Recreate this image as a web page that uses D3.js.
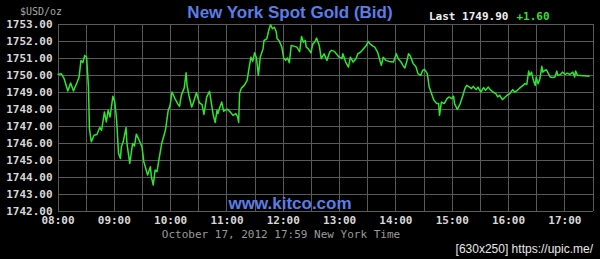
<!DOCTYPE html>
<html lang="en">
<head>
<meta charset="UTF-8">
<script src="https://d3js.org/d3.v7.min.js"></script>
<style>
  body { margin: 0; background: #000; }
  svg { display: block; background: #000; }
  .grid line { stroke: #5a5a5a; stroke-width: 1px; shape-rendering: crispEdges; }
  .grid path { display: none; }
  .lbl text { fill: #d8d8d8; font-family: "DejaVu Sans Mono", monospace; font-weight: bold; font-size: 11px; }
  .lbl path, .lbl line { display: none; }
  .title { fill: #5a7ee6; font-family: "Liberation Sans", Arial, sans-serif; font-weight: bold; font-size: 17px; }
  .mono { font-family: "DejaVu Sans Mono", monospace; font-weight: bold; font-size: 11px; }
</style>
</head>
<body>
<svg id="chart" width="600" height="259"></svg>
<script>
// chart values
const times = ["08:00","08:04","08:07","08:11","08:14","08:17","08:21","08:23","08:25","08:27","08:29","08:31","08:33","08:34","08:36","08:39","08:42","08:45","08:47","08:50","08:52","08:54","08:56","08:59",
  "09:01","09:03","09:05","09:07","09:08","09:10","09:13","09:14","09:17","09:20","09:22","09:24","09:27","09:30","09:32","09:36","09:39","09:40","09:42","09:44","09:46","09:48","09:51","09:55","09:58",
  "10:00","10:02","10:05","10:08","10:10","10:12","10:15","10:17","10:18","10:20","10:23","10:25","10:28","10:31","10:34","10:36","10:39","10:42","10:44","10:46","10:48","10:50","10:51","10:53","10:55","10:57","10:58",
  "11:01","11:04","11:07","11:10","11:12","11:13","11:14","11:16","11:19","11:22","11:24","11:26","11:28","11:30","11:32","11:34","11:36","11:39","11:40","11:43","11:45","11:47","11:49","11:51","11:53","11:54","11:56","11:59",
  "12:01","12:03","12:05","12:07","12:09","12:12","12:15","12:18","12:20","12:22","12:24","12:25","12:27","12:30","12:32","12:34","12:36","12:39","12:41","12:44","12:47","12:50","12:52","12:55","12:57",
  "13:00","13:03","13:04","13:07","13:10","13:12","13:15","13:18","13:20","13:23","13:26","13:29","13:31","13:33","13:36","13:38","13:41","13:44","13:45","13:47","13:50","13:53","13:58",
  "14:01","14:03","14:06","14:08","14:10","14:12","14:14","14:16","14:19","14:22","14:24","14:27","14:29","14:31","14:34","14:36","14:39","14:41","14:44","14:46","14:47","14:49","14:52","14:55","14:57",
  "15:00","15:02","15:03","15:06","15:09","15:12","15:14","15:16","15:19","15:21","15:23","15:26","15:28","15:31","15:34","15:36","15:39","15:41","15:44","15:47","15:49","15:51","15:54","15:57","15:59",
  "16:02","16:05","16:07","16:10","16:13","16:16","16:18","16:20","16:22","16:23","16:25","16:27","16:29","16:30","16:32","16:34","16:36","16:37","16:39","16:41","16:43","16:45","16:48","16:50","16:52","16:53","16:56","16:58",
  "17:01","17:03","17:06","17:09","17:11","17:12","17:14","17:27"];
const prices = [1750.00,1750.05,1749.76,1749.03,1749.50,1749.03,1749.56,1749.85,1750.83,1750.70,1751.12,1751.02,1749.26,1746.82,1746.04,1746.43,1746.47,1746.88,1746.72,1747.80,1747.21,1747.90,1747.50,1748.72,
  1748.38,1747.31,1745.36,1745.06,1745.74,1746.04,1746.88,1745.94,1744.77,1745.94,1745.79,1746.49,1746.14,1745.74,1744.86,1744.09,1744.57,1743.99,1743.50,1744.38,1744.28,1744.96,1745.94,1746.72,1747.90,
  1748.19,1748.97,1748.60,1748.29,1748.12,1748.80,1749.20,1750.10,1749.36,1748.78,1748.09,1748.38,1748.93,1748.35,1748.23,1747.65,1748.68,1749.01,1748.29,1747.60,1747.18,1747.90,1747.70,1748.09,1748.38,1747.84,1747.90,
  1747.96,1747.80,1747.60,1747.70,1747.50,1747.18,1748.90,1749.20,1749.36,1749.66,1750.34,1751.02,1750.77,1751.28,1750.97,1749.95,1751.02,1751.52,1752.00,1752.10,1752.59,1752.92,1752.69,1752.78,1752.53,1752.10,1752.00,1751.61,
  1750.97,1750.83,1750.97,1750.70,1751.71,1751.67,1751.61,1751.35,1752.24,1751.90,1752.00,1751.61,1751.52,1751.28,1751.80,1751.90,1752.14,1751.67,1750.93,1751.22,1750.83,1751.32,1751.42,1751.36,1751.22,
  1751.02,1750.93,1751.22,1750.73,1750.44,1751.02,1750.73,1750.93,1751.22,1751.32,1751.52,1751.71,1751.94,1751.80,1751.67,1751.61,1751.32,1750.73,1750.54,1751.02,1750.83,1750.77,1750.73,
  1751.22,1750.93,1750.73,1750.54,1750.38,1750.73,1751.22,1751.08,1750.64,1750.44,1750.05,1749.95,1750.24,1750.30,1750.05,1749.26,1748.80,1748.48,1748.30,1748.30,1747.60,1748.38,1748.29,1748.58,1748.68,
  1748.58,1748.72,1748.29,1747.94,1748.29,1748.78,1749.17,1749.36,1749.26,1749.17,1749.30,1749.11,1749.26,1748.97,1749.23,1749.07,1749.26,1749.11,1748.97,1748.88,1748.68,1748.78,1748.52,1748.68,1748.78,
  1748.88,1749.11,1748.97,1749.07,1749.23,1749.36,1749.46,1749.42,1750.20,1749.95,1750.14,1749.66,1749.36,1749.85,1749.46,1749.76,1750.48,1750.14,1750.24,1750.28,1750.05,1749.85,1749.82,1749.85,1750.20,1749.95,1750.00,1750.14,
  1750.00,1750.08,1750.00,1750.14,1749.85,1750.20,1749.95,1749.90];
const priceTicks = [1742,1743,1744,1745,1746,1747,1748,1749,1750,1751,1752,1753];
const timeTicks = ["08:00","09:00","10:00","11:00","12:00","13:00","14:00","15:00","16:00","17:00"];
const timeDomain = ["08:00","17:30"];
const lastPrice = "1749.90";
const change = "+1.60";

const svg = d3.select("#chart");
const parse = d3.timeParse("%H:%M");
const plotLeft = 57.5, plotRight = 592.5, plotTop = 23.5, plotBottom = 210.5;

const x = d3.scaleTime().domain(timeDomain.map(parse)).range([plotLeft, plotRight]);
const y = d3.scaleLinear().domain([1742, 1753]).range([plotBottom, plotTop]);

// grid
svg.append("g").attr("class", "grid")
  .attr("transform", `translate(0,${plotBottom})`)
  .call(d3.axisBottom(x).ticks(d3.timeMinute.every(30)).tickSize(-(plotBottom - plotTop)).tickFormat(""));
svg.append("g").attr("class", "grid")
  .attr("transform", `translate(${plotLeft},0)`)
  .call(d3.axisLeft(y).tickValues(priceTicks).tickSize(-(plotRight - plotLeft)).tickFormat(""));

// axis labels
svg.append("g").attr("class", "lbl")
  .attr("transform", `translate(${plotLeft - 5},0)`)
  .call(d3.axisLeft(y).tickValues(priceTicks).tickSize(0).tickPadding(0).tickFormat(d3.format(".2f")));
svg.append("g").attr("class", "lbl")
  .attr("transform", `translate(0,${plotBottom + 5})`)
  .call(d3.axisBottom(x).tickValues(timeTicks.map(parse)).tickSize(0).tickPadding(1).tickFormat(d3.timeFormat("%H:%M")));

// price line
const data = times.map((t, i) => ({ t: parse(t), p: prices[i] }));
svg.append("path").datum(data)
  .attr("fill", "none")
  .attr("stroke", "#2ee62e")
  .attr("stroke-width", 1.5)
  .attr("stroke-linejoin", "round")
  .attr("d", d3.line().x(d => x(d.t)).y(d => y(d.p)));

// texts
svg.append("text").attr("class", "mono").attr("x", 20).attr("y", 15)
  .attr("fill", "#a8a8a8").style("font-size", "10px").style("font-weight", "normal").text("$USD/oz");
svg.append("text").attr("class", "title").attr("x", 290).attr("y", 18)
  .attr("text-anchor", "middle").text("New York Spot Gold (Bid)");
svg.append("text").attr("class", "title").attr("x", 290).attr("y", 209)
  .attr("text-anchor", "middle").text("www.kitco.com");

const last = svg.append("text").attr("class", "mono").attr("x", 429).attr("y", 20);
last.append("tspan").attr("fill", "#f0f0f0").text("Last " + lastPrice);
last.append("tspan").attr("fill", "#33dd33").attr("dx", 8).text(change);

svg.append("text").attr("class", "mono").attr("x", 281).attr("y", 237.5)
  .attr("text-anchor", "middle").attr("fill", "#9a9a9a").style("font-weight", "normal")
  .text("October 17, 2012 17:59 New York Time");

svg.append("text").attr("x", 593).attr("y", 253).attr("text-anchor", "end")
  .attr("fill", "#e8e8e8").style("font-family", "'Liberation Sans', sans-serif").style("font-size", "12px")
  .text("[630x250] https://upic.me/");
</script>
</body>
</html>
